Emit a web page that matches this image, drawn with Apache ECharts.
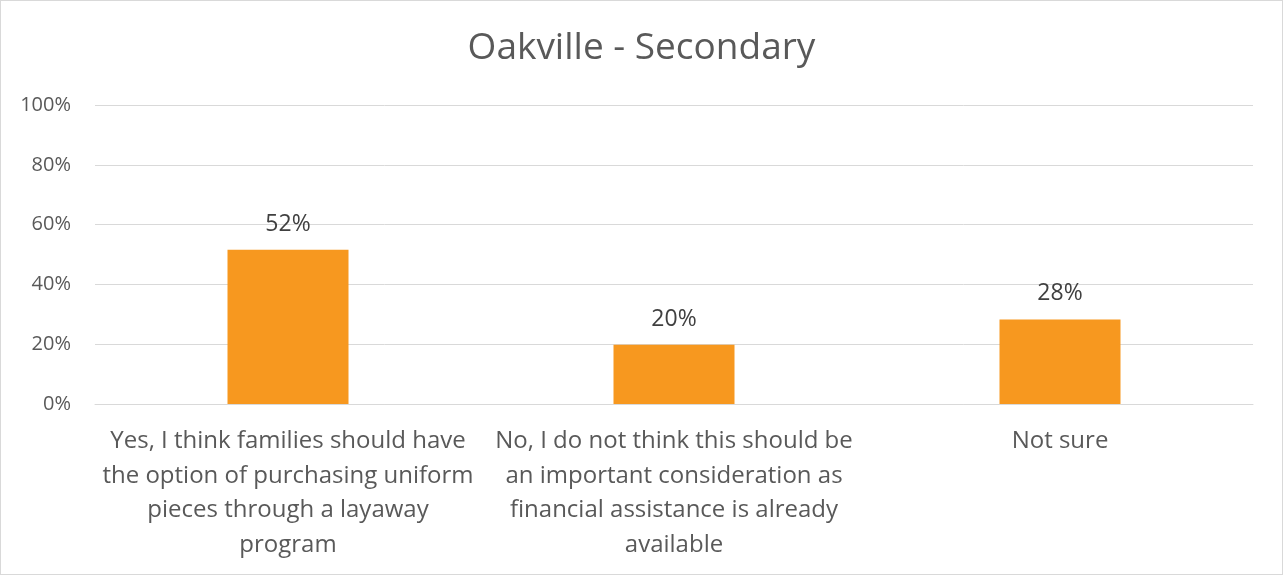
<!DOCTYPE html>
<html>
<head>
<meta charset="utf-8">
<script src="https://cdn.jsdelivr.net/npm/echarts@6/dist/echarts.min.js"></script>
<style>
html,body{margin:0;padding:0;background:#fff;}
#c{width:1281px;height:573px;border:1px solid #d9d9d9;}
</style>
</head>
<body>
<div id="c"></div>
<script>
const title = "Oakville - Secondary";
const categories = [
  "Yes, I think families should have\nthe option of purchasing uniform\npieces through a layaway\nprogram",
  "No, I do not think this should be\nan important consideration as\nfinancial assistance is already\navailable",
  "Not sure"
];
const values = [51.6, 19.8, 28.3];
const yTicks = [0, 20, 40, 60, 80, 100];

const chart = echarts.init(document.getElementById('c'), null, {renderer: 'canvas'});
chart.setOption({
  animation: false,
  backgroundColor: '#fff',
  title: {
    text: title, left: 'center', top: 24,
    textStyle: {fontFamily: 'Open Sans', fontSize: 37, fontWeight: 'normal', color: '#595959'}
  },
  grid: {left: 94, right: 29, top: 104, bottom: 170, containLabel: false},
  xAxis: {
    type: 'category', data: categories,
    axisLine: {show: true, lineStyle: {color: '#d9d9d9', width: 1}},
    axisTick: {show: false},
    axisLabel: {
      interval: 0, margin: 20, color: '#595959',
      fontFamily: 'Open Sans', fontSize: 24, lineHeight: 34.5
    }
  },
  yAxis: {
    type: 'value', min: yTicks[0], max: yTicks[yTicks.length - 1], interval: 20,
    axisLine: {show: false}, axisTick: {show: false},
    splitLine: {lineStyle: {color: '#d9d9d9', width: 1}},
    axisLabel: {
      formatter: v => v + '%', color: '#595959',
      fontFamily: 'Open Sans', fontSize: 20, margin: 24
    }
  },
  series: [{
    type: 'bar', data: values, barWidth: 121,
    itemStyle: {color: '#f7981f'},
    label: {
      show: true, position: 'top', distance: 14,
      formatter: p => Math.round(p.value) + '%',
      color: '#404040', fontFamily: 'Open Sans', fontSize: 23
    }
  }]
});
</script>
</body>
</html>
